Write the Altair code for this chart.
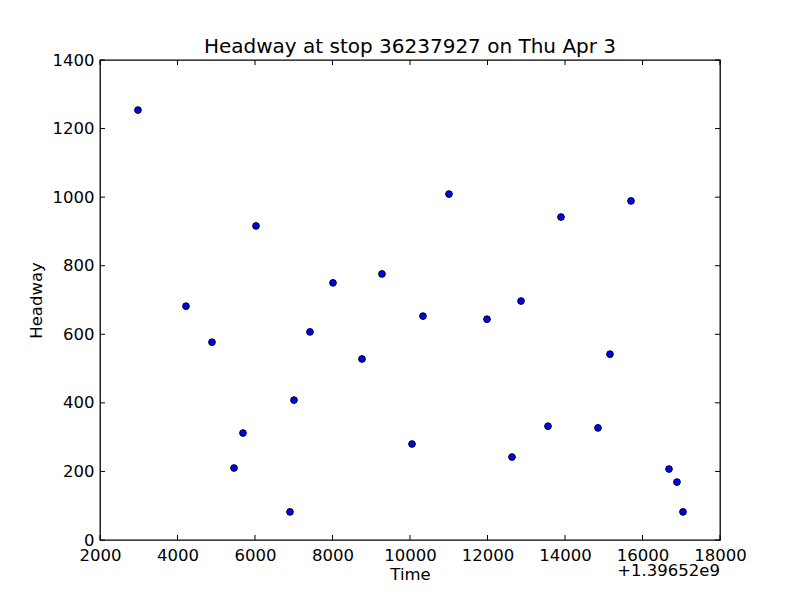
import altair as alt
import pandas as pd

OFFSET_LABEL = "+1.39652e9"
time_offset = [2980, 4219, 4890, 5458, 5690, 6026, 6903, 7006, 7419, 8013, 8761, 9277,
               10052, 10335, 11006, 11987, 12632, 12865, 13561, 13897, 14852, 15161,
               15703, 16684, 16890, 17045]
headway = [1254, 682, 577, 210, 312, 916, 82, 408, 607, 750, 528, 776,
           280, 653, 1009, 644, 242, 697, 332, 942, 327, 542,
           989, 207, 169, 82]
x_ticks = [2000, 4000, 6000, 8000, 10000, 12000, 14000, 16000, 18000]
y_ticks = [0, 200, 400, 600, 800, 1000, 1200, 1400]

df = pd.DataFrame({"Time": time_offset, "Headway": headway})
xt = pd.DataFrame({"t": x_ticks})
yt = pd.DataFrame({"t": y_ticks})

FONT = "DejaVu Sans"
xscale = alt.Scale(domain=[2000, 18000], nice=False, zero=False)
yscale = alt.Scale(domain=[0, 1400], nice=False)
TL = 5

points = alt.Chart(df).mark_point(filled=True, fill="#0000ff", stroke="black",
                                  strokeWidth=1, size=45, opacity=1).encode(
    x=alt.X("Time:Q", scale=xscale,
            axis=alt.Axis(values=x_ticks, title="Time", format="d", ticks=False,
                          domain=False, grid=False, labelPadding=7, labelFontSize=16.5,
                          titleFontSize=16.5, titleFontWeight="normal", labelColor="black",
                          titleColor="black", labelFont=FONT, titleFont=FONT, titlePadding=3,
                          labelFlush=False)),
    y=alt.Y("Headway:Q", scale=yscale,
            axis=alt.Axis(values=y_ticks, title="Headway", format="d", ticks=False,
                          domain=False, grid=False, labelPadding=6, labelFontSize=16.5,
                          titleFontSize=16.5, titleFontWeight="normal", labelColor="black",
                          titleColor="black", labelFont=FONT, titleFont=FONT, titlePadding=8,
                          labelFlush=False)),
)

bottom_ticks = alt.Chart(xt).mark_rule(color="black", strokeWidth=1).encode(
    x=alt.X("t:Q", scale=xscale), y=alt.value(480), y2=alt.value(480 - TL))
top_ticks = alt.Chart(xt).mark_rule(color="black", strokeWidth=1).encode(
    x=alt.X("t:Q", scale=xscale), y=alt.value(0), y2=alt.value(TL))
left_ticks = alt.Chart(yt).mark_rule(color="black", strokeWidth=1).encode(
    y=alt.Y("t:Q", scale=yscale), x=alt.value(0), x2=alt.value(TL))
right_ticks = alt.Chart(yt).mark_rule(color="black", strokeWidth=1).encode(
    y=alt.Y("t:Q", scale=yscale), x=alt.value(620), x2=alt.value(620 - TL))

offset_text = alt.Chart(pd.DataFrame({"label": [OFFSET_LABEL]})).mark_text(
    align="right", baseline="middle", font=FONT, fontSize=16.5, color="black").encode(
    x=alt.value(620), y=alt.value(511), text="label:N")

chart = alt.layer(points, bottom_ticks, top_ticks, left_ticks, right_ticks, offset_text).properties(
    width=620, height=480,
    title=alt.TitleParams("Headway at stop 36237927 on Thu Apr 3", font=FONT, fontSize=20,
                          fontWeight="normal", color="black", offset=-5),
    padding={"left": 92, "top": 52, "right": 72, "bottom": 52},
    autosize="none",
    background="white",
).configure_view(stroke="black", strokeWidth=1.3, strokeOpacity=1)

chart.save("out.html", embed_options={"renderer": "svg", "actions": False})
